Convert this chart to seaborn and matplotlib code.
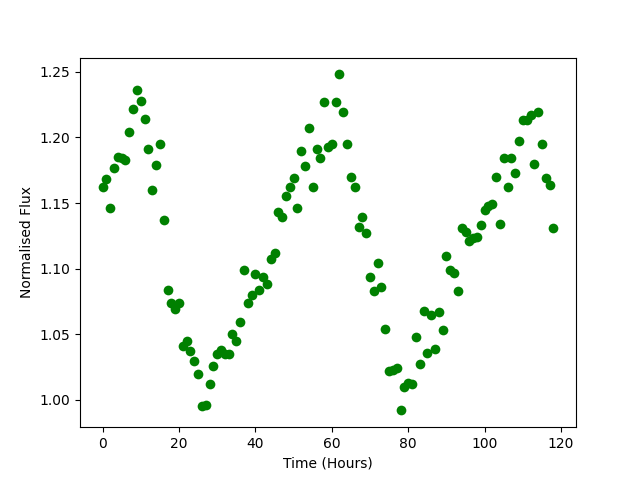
import numpy as np
import pandas as pd
import matplotlib
matplotlib.use('Agg')
import matplotlib.pyplot as plt
import seaborn as sns

# DATA

hours = list(range(120))

flux = [
    1.162, 1.168, 1.146, 1.177, 1.185, 1.184, 1.183, 1.204, 1.222, 1.236,
    1.228, 1.214, 1.191, 1.160, 1.179, 1.195, 1.137, 1.084, 1.074, 1.069,
    1.074, 1.041, 1.045, 1.037, 1.030, 1.020, 0.995, 0.996, 1.012, 1.026,
    1.035, 1.038, 1.035, 1.035, 1.050, 1.045, 1.059, 1.099, 1.074, 1.080,
    1.096, 1.084, 1.094, 1.088, 1.107, 1.112, 1.143, 1.139, 1.155, 1.162,
    1.169, 1.146, 1.190, 1.178, 1.207, 1.162, 1.191, 1.184, 1.227, 1.193,
    1.195, 1.227, 1.248, 1.219, 1.195, 1.170, 1.162, 1.132, 1.139, 1.127,
    1.094, 1.083, 1.104, 1.086, 1.054, 1.022, 1.023, 1.024, 0.992, 1.010,
    1.013, 1.012, 1.048, 1.027, 1.068, 1.036, 1.065, 1.039, 1.067, 1.053,
    1.110, 1.099, 1.097, 1.083, 1.131, 1.128, 1.121, 1.123, 1.124, 1.133,
    1.145, 1.148, 1.149, 1.170, 1.134, 1.184, 1.162, 1.184, 1.173, 1.197,
    1.213, 1.213, 1.217, 1.180, 1.219, 1.195, 1.169, 1.164, 1.131,
]

# the last hour
hours = hours[:len(flux)]

df = pd.DataFrame({'Time': hours, 'Flux': flux})

# PLOT

fig, ax = plt.subplots(figsize=(6.4, 4.8), dpi=100)

sns.scatterplot(data=df, x='Time', y='Flux', color='green', s=49,
                linewidth=0, ax=ax)

ax.set_xlabel('Time (Hours)')
ax.set_ylabel('Normalised Flux')
ax.set_yticks(np.arange(1.00, 1.26, 0.05))
ax.yaxis.set_major_formatter(matplotlib.ticker.FormatStrFormatter('%.2f'))

plt.savefig('out.png')
